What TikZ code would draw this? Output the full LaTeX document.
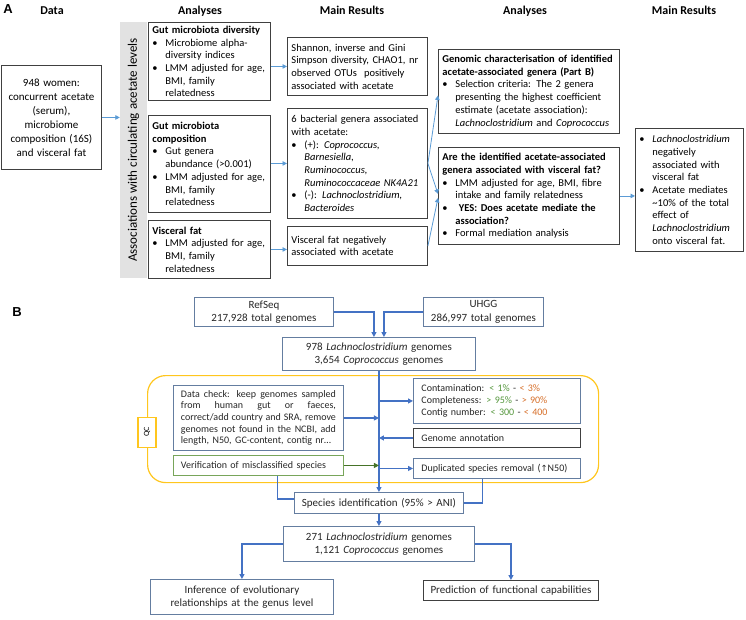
\documentclass[tikz,border=0pt]{standalone}
\usepackage{fontspec}
\setmainfont{Carlito}
\newfontfamily\panelfont{Liberation Sans}
\newfontfamily\symfont{DejaVu Sans}
\usepackage{tikz}
\usetikzlibrary{positioning, arrows.meta}
\usepackage{xcolor}
\definecolor{boxgrey}{RGB}{64,64,64}
\definecolor{arrowlight}{RGB}{91,155,213}
\definecolor{arrowblue}{RGB}{68,114,196}
\definecolor{slateblue}{RGB}{100,125,160}
\definecolor{bargrey}{RGB}{226,226,226}
\definecolor{qcyellow}{RGB}{255,198,30}
\definecolor{checkgreen}{RGB}{120,165,90}
\definecolor{arrowgreen}{RGB}{70,115,40}
\definecolor{goodgreen}{RGB}{84,150,60}
\definecolor{okorange}{RGB}{214,110,40}
\newcommand{\bulletpt}{\makebox[13pt][l]{\textbullet}}
\newcommand{\indentpt}{\hspace*{13pt}}
\newcommand{\fullline}[2]{\makebox[#1][s]{\spaceskip=0pt\xspaceskip=0pt\relax #2}}

\begin{document}
\begin{tikzpicture}[x=1pt, y=-1pt,
  every node/.style={font=\fontsize{10.5}{12.7}\selectfont, inner ysep=1pt},
  head/.style={font=\fontsize{12}{14}\selectfont\bfseries, anchor=base},
  panel/.style={font=\panelfont\fontsize{13}{15}\selectfont\bfseries},
  abox/.style={draw=boxgrey, line width=0.9pt, anchor=north west, align=left, inner xsep=4pt},
  bbox/.style={draw=slateblue, line width=0.9pt, anchor=north west, align=center, inner xsep=3pt,
    font=\fontsize{11}{13.3}\selectfont, text=black!85},
  sbox/.style={draw=slateblue, line width=0.9pt, anchor=north west, align=left, inner xsep=8pt,
    font=\fontsize{10}{11.7}\selectfont, text=black!85},
  arra/.style={arrowlight, line width=0.8pt, -{Triangle[length=4.5pt, width=4.5pt]}},
  arrb/.style={arrowblue, line width=1.2pt, -{Triangle[length=5pt, width=5pt]}},
  arrg/.style={arrowgreen, line width=1.2pt, -{Triangle[length=5pt, width=5pt]}},
  lineb/.style={arrowblue, line width=1.2pt},
]
\useasboundingbox (0,0) rectangle (746,619);

% panel A
\node[panel] (labA) at (8,9) {A};
\node[head] (h1) at (52,14) {Data};
\node[head] (h2) at (200,14) {Analyses};
\node[head] (h3) at (352,14) {Main Results};
\node[head] (h4) at (525,14) {Analyses};
\node[head] (h5) at (684,14) {Main Results};

\node[abox, align=center, font=\fontsize{11}{14}\selectfont, text width=92pt, minimum height=104pt] (data) at (1,65)
  {948 women:\\ concurrent acetate\\ (serum),\\ microbiome\\ composition (16S)\\ and visceral fat};
\node[fill=bargrey, rotate=90, minimum width=256pt, minimum height=27pt, font=\fontsize{13}{15}\selectfont] (bar) at (133.5,150)
  {Associations with circulating acetate levels};

\node[abox, text width=114pt, minimum height=78pt] (a1) at (148,22)
  {\textbf{Gut microbiota diversity}\\ \bulletpt Microbiome alpha-\\ \indentpt diversity indices\\
   \bulletpt LMM adjusted for age,\\ \indentpt BMI, family\\ \indentpt relatedness};
\node[abox, text width=114pt, minimum height=97pt] (a2) at (148,115)
  {\textbf{Gut microbiota}\\ \textbf{composition}\\ \bulletpt Gut genera\\ \indentpt abundance (>0.001)\\
   \bulletpt LMM adjusted for age,\\ \indentpt BMI, family\\ \indentpt relatedness};
\node[abox, text width=114pt, minimum height=58pt] (a3) at (148,220)
  {\textbf{Visceral fat}\\ \bulletpt LMM adjusted for age,\\ \indentpt BMI, family\\ \indentpt relatedness};

\node[abox, text width=132pt, minimum height=58pt] (r1) at (287,37)
  {Shannon, inverse and Gini\\ Simpson diversity, CHAO1, nr\\ observed OTUs\ \ positively\\ associated with acetate};
\node[abox, text width=132pt, minimum height=110pt] (r2) at (287,108)
  {6 bacterial genera associated\\ with acetate:\\ \bulletpt (+): \textit{Coprococcus,}\\ \indentpt\textit{Barnesiella,}\\
   \indentpt\textit{Ruminococcus,}\\ \indentpt\textit{Ruminococcaceae NK4A21}\\ \bulletpt (-): \textit{Lachnoclostridium,}\\
   \indentpt\textit{Bacteroides}};
\node[abox, text width=132pt, minimum height=39pt] (r3) at (287,226)
  {Visceral fat negatively\\ associated with acetate};

\node[abox, text width=173pt, minimum height=84pt] (g) at (438,49)
  {\textbf{Genomic characterisation of identified}\\ \textbf{acetate-associated genera (Part B)}\\
   \bulletpt Selection criteria: The 2 genera\\ \indentpt presenting the highest coefficient\\
   \indentpt estimate (acetate association):\\ \indentpt\textit{Lachnoclostridium} and \textit{Coprococcus}};
\node[abox, text width=173pt, minimum height=97pt] (q) at (438,147)
  {\textbf{Are the identified acetate-associated}\\ \textbf{genera associated with visceral fat?}\\
   \bulletpt LMM adjusted for age, BMI, fibre\\ \indentpt intake and family relatedness\\
   \bulletpt\textbf{\ YES: Does acetate mediate the}\\ \indentpt\textbf{association?}\\ \bulletpt Formal mediation analysis};
\node[abox, text width=100pt, minimum height=123pt] (rr) at (635,128)
  {\bulletpt\textit{Lachnoclostridium}\\ \indentpt negatively\\ \indentpt associated with\\ \indentpt visceral fat\\
   \bulletpt Acetate mediates\\ \indentpt\textasciitilde10\% of the total\\ \indentpt effect of\\
   \indentpt\textit{Lachnoclostridium}\\ \indentpt onto visceral fat.};

\draw[arra] (data.east) -- (data.east -| bar.north);
\draw[arra] (r1.west -| a1.east) -- (r1.west);
\draw[arra] (r2.west -| a2.east) -- (r2.west);
\draw[arra] (a3.east) -- (a3.east -| r3.west);
\draw[arra] (r2.east) -- ([yshift=-4pt]g.west);
\draw[arra] (r2.east) -- ([yshift=2pt]q.west);
\draw[arra] (r3.east) -- ([yshift=-2pt]q.west);
\draw[arra] (q.east) -- (q.east -| rr.west);

% panel B
\node[panel] (labB) at (17,312) {B};
\node[draw=qcyellow, line width=1.2pt, rounded corners=18pt, minimum width=451pt, minimum height=107pt,
  anchor=north west, inner sep=0pt] (qc) at (147,375) {};
\node[draw=qcyellow, line width=1.2pt, fill=white, rotate=90, minimum width=30pt, minimum height=18pt,
  inner sep=0pt, font=\fontsize{8}{9}\selectfont] (qcl) at ([yshift=-3pt]qc.west) {QC};

\node[bbox, text width=133pt, minimum height=29pt] (ref) at (194,297) {RefSeq\\ 217,928 total genomes};
\node[bbox, text width=114pt, minimum height=29pt] (uhgg) at (423,297) {UHGG\\ 286,997 total genomes};
\node[bbox, text width=187pt, minimum height=33pt] (top) at (282,337)
  {978 \textit{Lachnoclostridium} genomes\\ 3,654 \textit{Coprococcus} genomes};

\node[sbox, text width=155pt, inner xsep=7.5pt, minimum height=65pt] (chk) at (173,385)
  {\fullline{155pt}{Data check: keep genomes sampled}\\ \fullline{155pt}{from human gut or faeces,}\\
   \fullline{155pt}{correct/add country and SRA, remove}\\ \fullline{155pt}{genomes not found in the NCBI, add}\\
   \fullline{150pt}{length, N50, GC-content, contig nr\ldots}};
\node[sbox, draw=checkgreen, text width=155pt, inner xsep=7.5pt, minimum height=20pt] (ver) at (173,455)
  {Verification of misclassified species};
\node[sbox, text width=151pt, minimum height=45pt] (cont) at (413,378)
  {Contamination: {\color{goodgreen}< 1\%} - {\color{okorange}< 3\%}\\
   Completeness: {\color{goodgreen}> 95\%} - {\color{okorange}> 90\%}\\
   Contig number: {\color{goodgreen}< 300} - {\color{okorange}< 400}};
\node[sbox, draw=boxgrey, text width=151pt, minimum height=19pt] (ann) at (413,428) {Genome annotation};
\node[sbox, text width=151pt, minimum height=20pt] (dup) at (413,458)
  {Duplicated species removal ({\symfont\fontsize{8.5}{9}\selectfont ↑}N50)};

\node[bbox, text width=163pt, minimum height=21pt] (sp) at (294,492) {Species identification (95\% > ANI)};
\node[bbox, text width=185pt, minimum height=35pt] (res) at (283,526)
  {271 \textit{Lachnoclostridium} genomes\\ 1,121 \textit{Coprococcus} genomes};
\node[bbox, text width=177pt, minimum height=35pt] (inf) at (150,579)
  {Inference of evolutionary\\ relationships at the genus level};
\node[bbox, draw=boxgrey, text width=169pt, minimum height=20pt] (pred) at (423,580)
  {Prediction of functional capabilities};

\draw[arrb] (ref.east) -| ([xshift=-5pt]top.north);
\draw[arrb] (uhgg.west) -| ([xshift=5pt]top.north);
\draw[arrb] (top.south) -- (sp.north);
\draw[arrb] (cont.west -| top.south) -- (cont.west);
\draw[arrb] (chk.east) -- (chk.east -| top.south);
\draw[arrb] (ann.west) -- (ann.west -| top.south);
\draw[arrg] (ver.east) -- (ver.east -| top.south);
\draw[arrb] (dup.west -| top.south) -- (dup.west);
\draw[lineb] ([xshift=19pt]ver.south) |- ([yshift=4pt]sp.west);
\draw[lineb] ([xshift=-14.5pt]dup.south) |- (sp.east);
\draw[arrb] (sp.south) -- (res.north);
\draw[arrb] (res.west) -| (inf.north);
\draw[arrb] (res.east) -| (pred.north);
\end{tikzpicture}
\end{document}
